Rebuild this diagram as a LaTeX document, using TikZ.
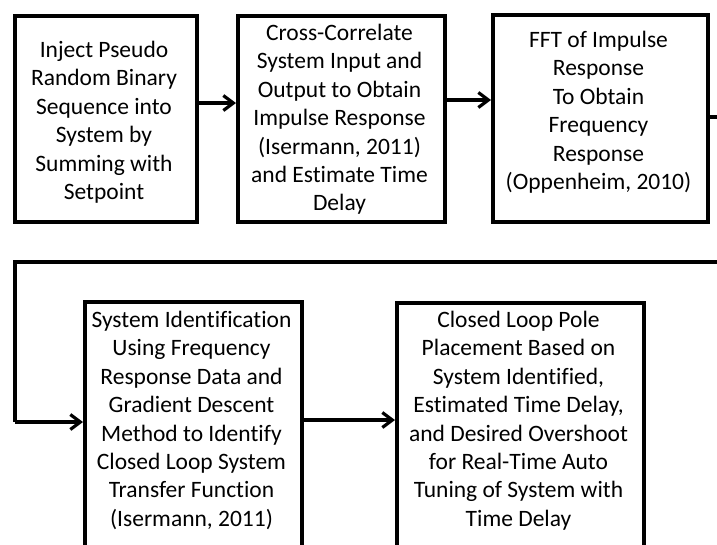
\documentclass[tikz,border=0pt]{standalone}
\usepackage{fontspec}
\setmainfont{Carlito}[Ligatures=NoCommon]
\usetikzlibrary{arrows.meta}
\tikzset{
  flowbox/.style={draw, line width=4pt, rectangle, inner sep=0pt, anchor=north west},
  boxtext/.style={align=center, inner sep=0pt, anchor=north,
    font=\fontsize{23.5}{28.4}\selectfont},
  link/.style={line width=3.2pt},
  flowarrow/.style={link, -{Straight Barb[length=10pt,width=15pt]}},
}
\begin{document}
\begin{tikzpicture}[x=1pt,y=-1pt]
\useasboundingbox (0,0) rectangle (717,544);
\clip (0,0) rectangle (717,544);

% top row
\node[flowbox, minimum width=182, minimum height=206] (inject) at (13,14) {};
\node[boxtext] (injecttext) at (104,41)
  {Inject Pseudo\\Random Binary\\Sequence into\\System by\\Summing with\\Setpoint};
\node[flowbox, minimum width=207, minimum height=206] (xcorr) at (236,14) {};
\node[boxtext] (xcorrtext) at (339.5,24)
  {Cross-Correlate\\System Input and\\Output to Obtain\\Impulse Response\\(Isermann, 2011)\\and Estimate Time\\Delay};
\node[flowbox, minimum width=215, minimum height=207] (fft) at (491,13) {};
\node[boxtext] (ffttext) at (598.5,31)
  {FFT of Impulse\\Response\\To Obtain\\Frequency\\Response\\(Oppenheim, 2010)};

% bottom row (boxes run past the lower edge)
\node[flowbox, minimum width=217, minimum height=280] (sysid) at (83,300) {};
\node[boxtext] (sysidtext) at (191.5,311)
  {System Identification\\Using Frequency\\Response Data and\\Gradient Descent\\Method to Identify\\Closed Loop System\\Transfer Function\\(Isermann, 2011)};
\node[flowbox, minimum width=247, minimum height=280] (pole) at (395,301) {};
\node[boxtext] (poletext) at (518.5,311)
  {Closed Loop Pole\\Placement Based on\\System Identified,\\Estimated Time Delay,\\and Desired Overshoot\\for Real-Time Auto\\Tuning of System with\\Time Delay};

% connectors
\coordinate (r1) at (740,117);
\coordinate (r2) at (740,262);
\coordinate (l1) at (15,262);
\draw[flowarrow] (inject.east |- 0,103) -- (xcorr.west |- 0,103);
\draw[flowarrow] (xcorr.east |- 0,100) -- (fft.west |- 0,100);
\draw[link] (fft.east |- 0,117) -- (r1) -- (r2) -- (l1) -- (l1 |- 0,422);
\draw[flowarrow] (l1 |- 0,422) -- (sysid.west |- 0,422);
\draw[flowarrow] (sysid.east |- 0,420) -- (pole.west |- 0,420);
\end{tikzpicture}
\end{document}
